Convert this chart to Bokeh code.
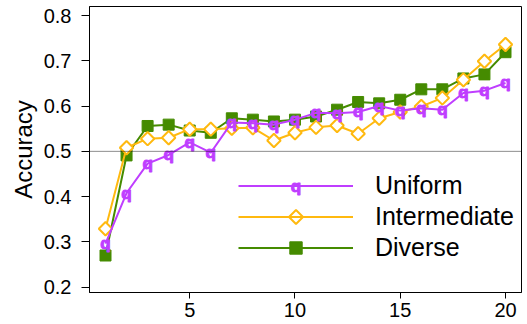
import math
from bokeh.plotting import figure
from bokeh.models import Range1d, FixedTicker, Span, Legend, LegendItem, Label, PolyAnnotation
from bokeh.embed import file_html
from bokeh.resources import INLINE
from bokeh.core.properties import value

# ---- data ----
steps = list(range(1, 21))
uniform = [0.296, 0.408, 0.473, 0.492, 0.520, 0.497, 0.564, 0.562, 0.559, 0.570,
           0.585, 0.584, 0.587, 0.600, 0.590, 0.595, 0.592, 0.629, 0.634, 0.651]
intermediate = [0.329, 0.508, 0.528, 0.530, 0.549, 0.549, 0.551, 0.552, 0.524, 0.541,
                0.553, 0.557, 0.539, 0.573, 0.587, 0.599, 0.618, 0.658, 0.699, 0.736]
diverse = [0.270, 0.491, 0.556, 0.559, 0.546, 0.541, 0.573, 0.570, 0.566, 0.570,
           0.577, 0.592, 0.609, 0.606, 0.614, 0.637, 0.637, 0.661, 0.670, 0.719]
series_names = ["Uniform", "Intermediate", "Diverse"]
x_ticks = [5, 10, 15, 20]
y_ticks = [0.2, 0.3, 0.4, 0.5, 0.6, 0.7, 0.8]
y_tick_labels = ["0.2", "0.3", "0.4", "0.5", "0.6", "0.7", "0.8"]
reference_level = 0.5
uniform_marker_char = "q"
y_label = "Accuracy"

PURPLE = "#BF3EFF"
ORANGE = "#FFB90F"
GREEN = "#458B00"
FONT = "Liberation Sans"

p = figure(width=527, height=324, output_backend="svg", toolbar_location=None,
           x_range=Range1d(0.24, 20.76), y_range=Range1d(0.1883, 0.8199),
           min_border_left=89, min_border_right=6, min_border_top=6, min_border_bottom=32)
p.xgrid.visible = False
p.ygrid.visible = False
p.outline_line_color = "black"
p.outline_line_alpha = 1.0
p.outline_line_width = 1
p.background_fill_color = "white"
p.border_fill_color = "white"

p.xaxis.ticker = FixedTicker(ticks=x_ticks)
p.yaxis.ticker = FixedTicker(ticks=y_ticks)
p.yaxis.major_label_overrides = {t: s for t, s in zip(y_ticks, y_tick_labels)}
for ax in (p.xaxis[0], p.yaxis[0]):
    ax.axis_line_color = "black"
    ax.major_tick_line_color = "black"
    ax.minor_tick_line_color = None
    ax.major_tick_in = 0
    ax.major_label_text_font = FONT
    ax.major_label_text_font_size = "20px"
    ax.major_label_text_color = "black"
p.xaxis.major_tick_out = 6
p.xaxis.major_label_standoff = 4
p.yaxis.major_tick_out = 8
p.yaxis.major_label_standoff = 10
p.yaxis.axis_label = y_label
p.yaxis.axis_label_text_font = FONT
p.yaxis.axis_label_text_font_size = "24px"
p.yaxis.axis_label_text_font_style = "normal"
p.yaxis.axis_label_text_color = "black"
p.yaxis.axis_label_standoff = 4

p.add_layout(Span(location=reference_level, dimension="width", line_color="black",
                  line_width=1, line_dash="1 1", line_alpha=0.9))

gl = p.line(steps, diverse, line_color=GREEN, line_width=2)
gs = p.scatter(steps, diverse, marker="square", size=11, fill_color=GREEN, line_color=GREEN)
ol = p.line(steps, intermediate, line_color=ORANGE, line_width=2)
osc = p.scatter(steps, intermediate, marker="square", angle=math.pi / 4, size=9.5,
                fill_color="white", line_color=ORANGE, line_width=2)
ul = p.line(steps, uniform, line_color=PURPLE, line_width=2)
ut = p.text(steps, uniform, text=[uniform_marker_char] * len(steps), text_color=PURPLE,
            text_font=value(FONT), text_font_style="bold", text_font_size="17px",
            text_outline_color=PURPLE,
            text_align="center", text_baseline="alphabetic", y_offset=0)

# legend (positions in screen pixels from the frame's bottom-left corner)
vx, vy = 149, 29
GW, GH = 115, 31
legend = Legend(items=[LegendItem(label=series_names[0], renderers=[ul]),
                       LegendItem(label=series_names[1], renderers=[ol]),
                       LegendItem(label=series_names[2], renderers=[gl, gs])],
                location=(vx, vy), orientation="vertical",
                glyph_width=GW, glyph_height=GH, label_standoff=22, spacing=0,
                padding=0, margin=0, border_line_color=None, background_fill_alpha=0,
                label_text_font=FONT, label_text_font_size="25px", label_text_color="black")
p.add_layout(legend)

cx = vx + GW / 2
row1 = vy + 3 * GH - GH / 2
row2 = vy + 2 * GH - GH / 2
p.add_layout(Label(x=cx, y=row1, x_units="screen", y_units="screen",
                   text=uniform_marker_char, text_color=PURPLE, text_font=FONT,
                   text_font_style="bold", text_font_size="17px", text_outline_color=PURPLE,
                   text_align="center", text_baseline="alphabetic"))
d = 7
p.add_layout(PolyAnnotation(xs=[cx - d, cx, cx + d, cx], ys=[row2, row2 + d, row2, row2 - d],
                            xs_units="screen", ys_units="screen",
                            fill_color="white", fill_alpha=1.0, line_color=ORANGE,
                            line_width=2, line_alpha=1.0))

open("out.html", "w").write(file_html(p, INLINE))
